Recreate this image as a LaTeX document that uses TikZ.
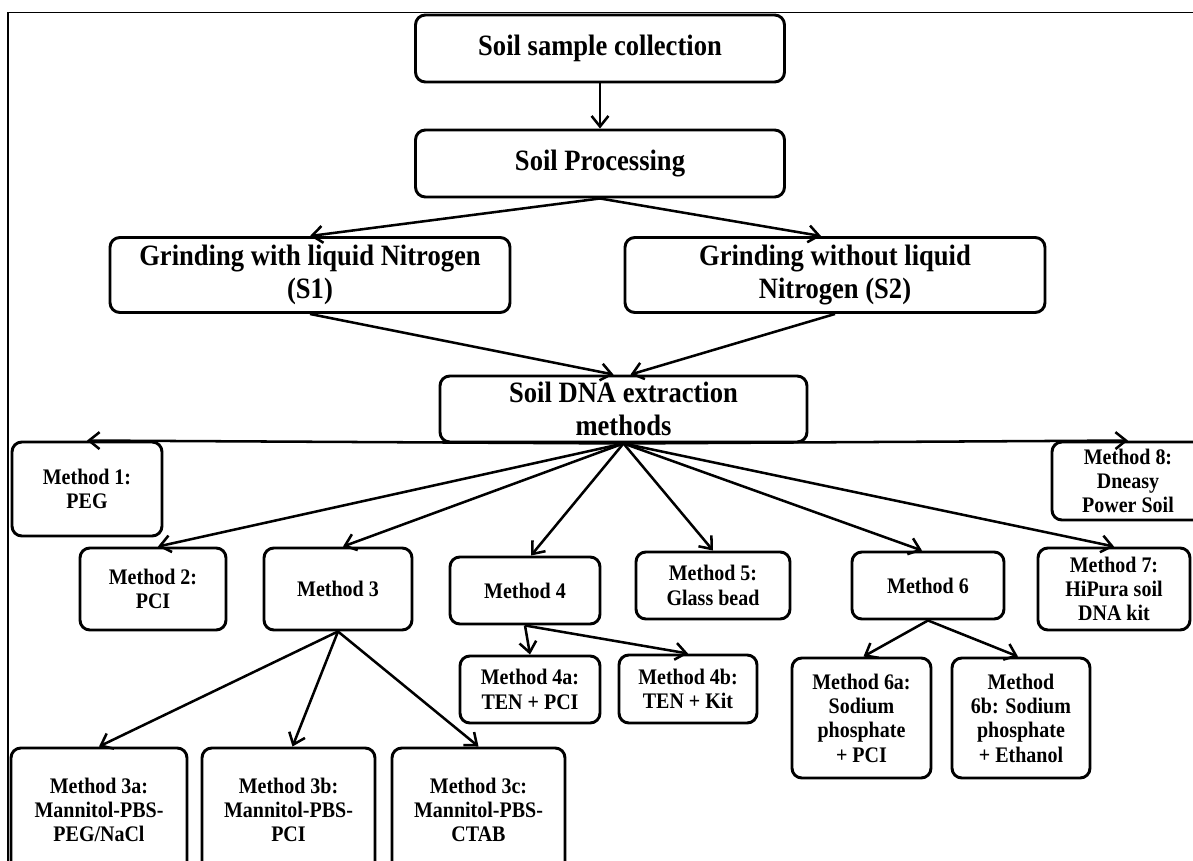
\documentclass[tikz,border=0pt]{standalone}
\usepackage{fontspec}
\setmainfont[FakeStretch=0.9]{Liberation Serif}
\usetikzlibrary{arrows.meta,calc}
\begin{document}
\begin{tikzpicture}[x=0.025cm,y=-0.025cm,
  sz/.style 2 args={minimum width=#1*0.025cm, minimum height=#2*0.025cm},
  box/.style={draw, line width=2.1pt, rounded corners=7pt, align=center, inner sep=0pt,
    font=\bfseries\fontsize{15.8}{17.3}\selectfont},
  bigbox/.style={box, font=\bfseries\fontsize{21}{24}\selectfont},
  arr/.style={line width=1.8pt, -{Straight Barb[length=7.5pt,width=12pt]}},
  frameline/.style={line width=1pt}]
\useasboundingbox (0,0) rectangle (1193,861);
\clip (0,0) rectangle (1193,861);
\draw[frameline] (8,900) -- (8,12.5) -- (1250,12.5);

\node[bigbox, sz={369}{67}] (B1) at (600,48.5) {Soil sample collection};
\node[bigbox, sz={369}{67}] (B2) at (600,163.5) {Soil Processing};
\node[bigbox, sz={400}{75}] (S1) at (310,275) {Grinding with liquid Nitrogen\\(S1)};
\node[bigbox, sz={420}{75}] (S2) at (835,275) {Grinding without liquid\\Nitrogen (S2)};
\node[bigbox, sz={367}{66}] (DNA) at (623.5,409) {Soil DNA extraction\\methods};

\node[box, sz={150}{94}] (M1) at (87,489) {Method 1:\\PEG};
\node[box, sz={152}{78}] (M8) at (1128,481) {Method 8:\\Dneasy\\Power Soil};
\node[box, sz={146}{82}] (M2) at (153,589) {Method 2:\\PCI};
\node[box, sz={148}{82}] (M3) at (338,589) {Method 3};
\node[box, sz={150}{67}] (M4) at (525,590.5) {Method 4};
\node[box, sz={154}{67}] (M5) at (713,585.5) {Method 5:\\Glass bead};
\node[box, sz={152}{67}] (M6) at (928,585.5) {Method 6};
\node[box, sz={152}{82}] (M7) at (1114,589) {Method 7:\\HiPura soil\\DNA kit};
\node[box, sz={140}{67}] (M4a) at (530,689.5) {Method 4a:\\TEN + PCI};
\node[box, sz={138}{68}] (M4b) at (688,689) {Method 4b:\\TEN + Kit};
\node[box, sz={139}{120}] (M6a) at (861.5,718) {Method 6a:\\Sodium\\phosphate\\+ PCI};
\node[box, sz={138}{120}] (M6b) at (1021,718) {Method\\6b: Sodium\\phosphate\\+ Ethanol};
\node[box, sz={176}{124}] (M3a) at (99,810) {Method 3a:\\Mannitol-PBS-\\PEG/NaCl};
\node[box, sz={173}{124}] (M3b) at (288.5,810) {Method 3b:\\Mannitol-PBS-\\PCI};
\node[box, sz={173}{124}] (M3c) at (478.5,810) {Method 3c:\\Mannitol-PBS-\\CTAB};

\draw[arr] (B1.south) -- (B2.north);
\draw[arr] (B2.south) -- (S1.north);
\draw[arr] (B2.south) -- ($(S2.north)+(-14,0)$);
\draw[arr] (S1.south) -- ($(DNA.north)+(-10,0)$);
\draw[arr] (S2.south) -- ($(DNA.north)+(7,0)$);

\draw[arr] (DNA.south) -- (M1.north);
\draw[arr] (DNA.south) -- (M8.north);
\draw[arr] (DNA.south) -- ($(M2.north)+(5,0)$);
\draw[arr] (DNA.south) -- ($(M3.north)+(5,0)$);
\draw[arr] (DNA.south) -- ($(M4.north)+(6,0)$);
\draw[arr] (DNA.south) -- (M5.north);
\draw[arr] (DNA.south) -- ($(M6.north)+(-6,0)$);
\draw[arr] (DNA.south) -- (M7.north);

\draw[arr] (M3.south) -- (M3a.north);
\draw[arr] (M3.south) -- ($(M3b.north)+(4,0)$);
\draw[arr] (M3.south) -- (M3c.north);
\draw[arr] (M4.south) -- (M4a.north);
\draw[arr] (M4.south) -- (M4b.north);
\draw[arr] (M6.south) -- ($(M6a.north)+(2,0)$);
\draw[arr] (M6.south) -- ($(M6b.north)+(-3,0)$);
\end{tikzpicture}
\end{document}
